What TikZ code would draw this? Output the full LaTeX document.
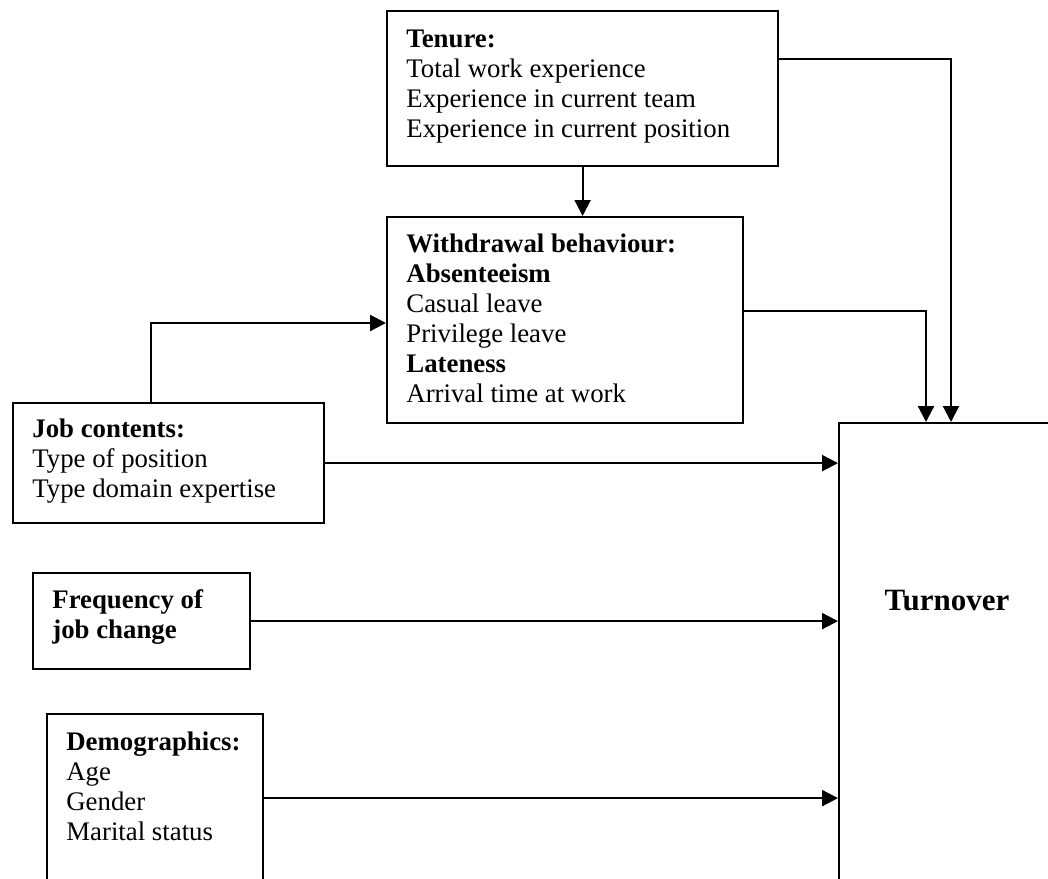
\documentclass[tikz,border=0pt]{standalone}
\usepackage{fontspec}
\setmainfont{Liberation Serif}
\usetikzlibrary{arrows.meta}
\tikzset{
  box/.style={draw, line width=1.1pt, inner sep=0pt, anchor=north west, rectangle},
  txt/.style={anchor=base west, inner sep=0pt, font=\fontsize{13.4}{15}\selectfont},
  arr/.style={line width=1.1pt, -{Triangle[length=8pt,width=8pt]}},
}
\begin{document}
\begin{tikzpicture}[x=0.5pt,y=-0.5pt]
\useasboundingbox (0,0) rectangle (1048,878);
\clip (0,0) rectangle (1048,878);
% boxes
\node[box, minimum width=195.5pt, minimum height=77.5pt] (tenure) at (386,10) {};
\node[box, minimum width=178pt, minimum height=103pt] (withd) at (386,216) {};
\node[box, minimum width=155.5pt, minimum height=60pt] (job) at (12,402) {};
\node[box, minimum width=108.5pt, minimum height=48pt] (freq) at (32,572) {};
\node[box, minimum width=108pt, minimum height=84pt] (demo) at (46,713) {};
\node[box, minimum width=115pt, minimum height=235pt] (turn) at (838,422) {};
% texts
\node[txt] (tenuretxt) at (406,47) {\parbox[t]{190pt}{\textbf{Tenure:}\\Total work experience\\Experience in current team\\Experience in current position}};
\node[txt] (withdtxt) at (406,252) {\parbox[t]{170pt}{\textbf{Withdrawal behaviour:}\\\textbf{Absenteeism}\\Casual leave\\Privilege leave\\\textbf{Lateness}\\Arrival time at work}};
\node[txt] (jobtxt) at (32,437) {\parbox[t]{150pt}{\textbf{Job contents:}\\Type of position\\Type domain expertise}};
\node[txt] (freqtxt) at (52,608) {\parbox[t]{100pt}{\textbf{Frequency of}\\\textbf{job change}}};
\node[txt] (demotxt) at (66,750) {\parbox[t]{100pt}{\textbf{Demographics:}\\Age\\Gender\\Marital status}};
\node[anchor=base, inner sep=0pt, font=\fontsize{15.5}{18}\selectfont\bfseries] (turntxt) at (947,610) {Turnover};
% connectors
\coordinate (t1) at (951,59);
\coordinate (w1) at (926,311);
\coordinate (j1) at (151,323);
\draw[arr] (tenure.south) -- (tenure.south |- withd.north);
\draw[arr] (tenure.east |- t1) -- (t1) -- (t1 |- turn.north);
\draw[arr] (withd.east |- w1) -- (w1) -- (w1 |- turn.north);
\draw[arr] (job.north -| j1) -- (j1) -- (j1 -| withd.west);
\draw[arr] (job.east) -- (job.east -| turn.west);
\draw[arr] (freq.east) -- (freq.east -| turn.west);
\draw[arr] (demo.east) -- (demo.east -| turn.west);
\end{tikzpicture}
\end{document}
